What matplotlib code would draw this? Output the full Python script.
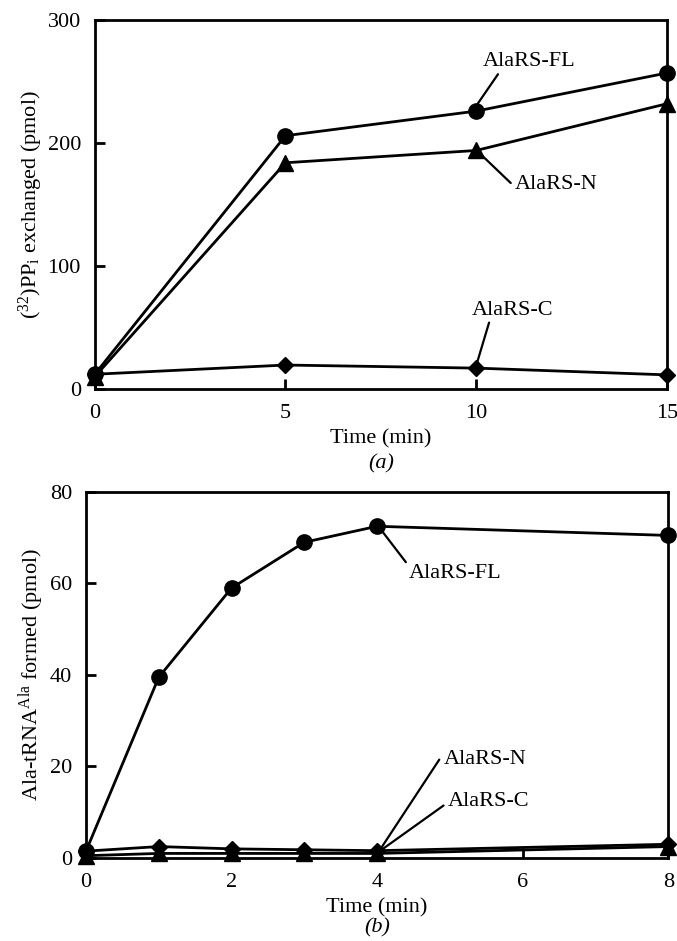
import matplotlib
matplotlib.use("Agg")
import matplotlib.pyplot as plt

plt.rcParams['font.family'] = ['Liberation Serif', 'DejaVu Serif']
plt.rcParams['mathtext.fontset'] = 'custom'
plt.rcParams['mathtext.rm'] = 'Liberation Serif'
plt.rcParams['mathtext.it'] = 'Liberation Serif:italic'

# panel (a): PPi exchange
time_a = [0, 5, 10, 15]
fl_a = [12, 206, 226, 257]
n_a = [10, 184, 194, 232]
c_a = [12, 19.5, 17, 11.5]

# panel (b): aminoacylation
time_b = [0, 1, 2, 3, 4, 8]
fl_b = [1.5, 39.5, 59, 69, 72.5, 70.5]
n_b = [0.5, 1, 1, 1, 1, 2.5]
c_b = [1.5, 2.5, 2, 1.8, 1.6, 3]

fs = 16
lw = 2.0

fig = plt.figure(figsize=(6.77, 9.41), dpi=100)
ax1 = fig.add_axes([0.140, 0.5866, 0.845, 0.392])
ax2 = fig.add_axes([0.127, 0.0882, 0.860, 0.389])

for ax in (ax1, ax2):
    for s in ax.spines.values():
        s.set_linewidth(2.0)
    ax.tick_params(direction='in', length=7, width=2, labelsize=fs,
                   top=False, right=False)
    ax.tick_params(axis='x', pad=11)
    ax.tick_params(axis='y', pad=10)

ax1.plot(time_a, fl_a, '-o', color='black', lw=lw, ms=11, clip_on=False, zorder=3)
ax1.plot(time_a, n_a, '-^', color='black', lw=lw, ms=11, clip_on=False, zorder=3)
ax1.plot(time_a, c_a, '-D', color='black', lw=lw, ms=8.5, clip_on=False, zorder=3)
ax1.set_xlim(0, 15)
ax1.set_ylim(0, 300)
ax1.set_xticks([0, 5, 10, 15])
ax1.set_yticks([0, 100, 200, 300])
ax1.set_xlabel('Time (min)', fontsize=fs, labelpad=4)
ax1.set_ylabel(r'($^{32}$)PP$_\mathrm{i}$ exchanged (pmol)', fontsize=fs, labelpad=2)

arrow = dict(arrowstyle='-', color='black', lw=1.6, shrinkA=0, shrinkB=0)
ax1.annotate('AlaRS-FL', xy=(10.04, 232), xytext=(11.4, 266), fontsize=fs,
             ha='center', va='center', arrowprops=dict(arrow, relpos=(0.18, 0.0)))
ax1.annotate('AlaRS-N', xy=(10.15, 190), xytext=(12.1, 166), fontsize=fs,
             ha='center', va='center', arrowprops=dict(arrow, relpos=(-0.05, 0.6)))
ax1.annotate('AlaRS-C', xy=(10.02, 21), xytext=(10.96, 64), fontsize=fs,
             ha='center', va='center', arrowprops=dict(arrow, relpos=(0.22, 0.0)))

ax2.plot(time_b, fl_b, '-o', color='black', lw=lw, ms=11, clip_on=False, zorder=3)
ax2.plot(time_b, n_b, '-^', color='black', lw=lw, ms=11, clip_on=False, zorder=3)
ax2.plot(time_b, c_b, '-D', color='black', lw=lw, ms=8.5, clip_on=False, zorder=3)
ax2.set_xlim(0, 8)
ax2.set_ylim(0, 80)
ax2.set_xticks([0, 2, 4, 6, 8])
ax2.set_yticks([0, 20, 40, 60, 80])
ax2.set_xlabel('Time (min)', fontsize=fs, labelpad=4)
ax2.set_ylabel(r'Ala-tRNA$^{\mathrm{Ala}}$ formed (pmol)', fontsize=fs, labelpad=2)

ax2.annotate('AlaRS-FL', xy=(4.08, 71.2), xytext=(5.07, 62.2), fontsize=fs,
             ha='center', va='center', arrowprops=dict(arrow, relpos=(0.0, 0.9)))
ax2.annotate('AlaRS-N', xy=(4.04, 1.8), xytext=(5.48, 21.5), fontsize=fs,
             ha='center', va='center', arrowprops=dict(arrow, relpos=(-0.05, 0.5)))
ax2.annotate('AlaRS-C', xy=(4.08, 2.0), xytext=(5.53, 12.3), fontsize=fs,
             ha='center', va='center', arrowprops=dict(arrow, relpos=(-0.05, 0.3)))

fig.text(381 / 677, 1 - 464 / 941, '(a)', ha='center', va='center',
         fontsize=fs, style='italic')
fig.text(377 / 677, 1 - 928 / 941, '(b)', ha='center', va='center',
         fontsize=fs, style='italic')

fig.savefig('out.png', dpi=100)
